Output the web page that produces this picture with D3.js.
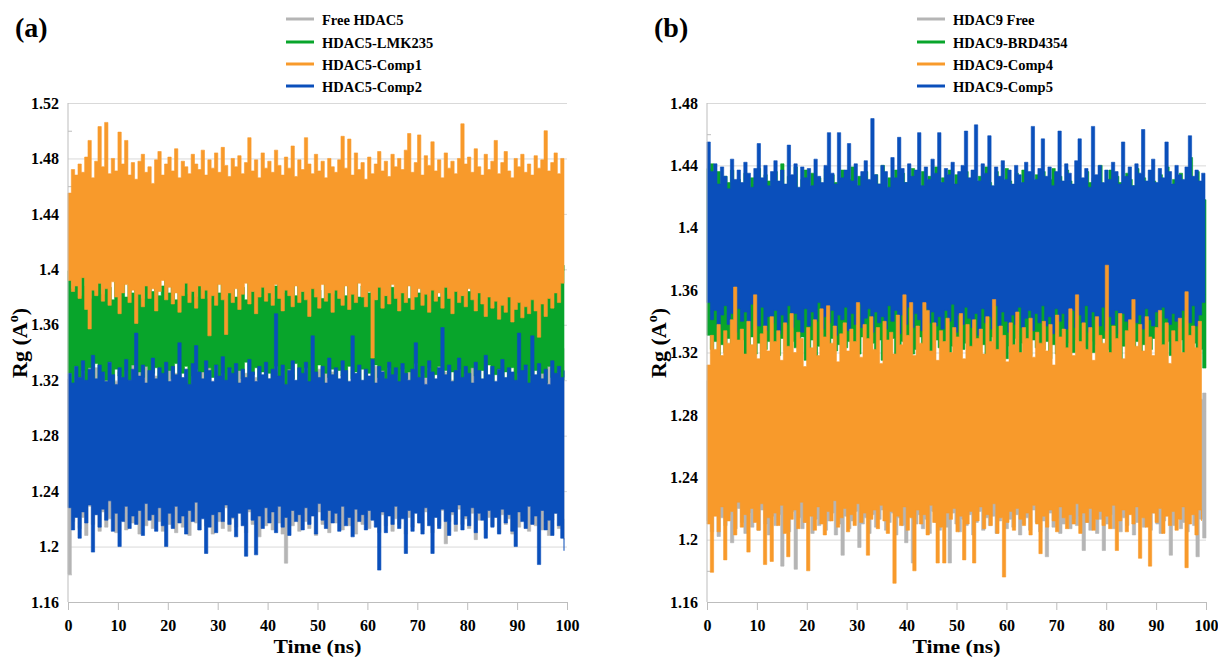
<!DOCTYPE html>
<html><head><meta charset="utf-8">
<script src="https://cdn.jsdelivr.net/npm/d3@7"></script>
<style>body{margin:0;background:#fff}</style>
</head><body>
<svg id="chart" width="1218" height="657"></svg>
<script>
// ---------- tick values ----------
const timeTicks = [0,10,20,30,40,50,60,70,80,90,100];
const yTicksA = [1.16,1.2,1.24,1.28,1.32,1.36,1.4,1.44,1.48,1.52];
const yTicksB = [1.16,1.2,1.24,1.28,1.32,1.36,1.4,1.44,1.48];

// ---------- series names ----------
const namesA = ["Free HDAC5","HDAC5-LMK235","HDAC5-Comp1","HDAC5-Comp2"];
const namesB = ["HDAC9 Free","HDAC9-BRD4354","HDAC9-Comp4","HDAC9-Comp5"];
const endTimeA = [99.4,99.4,99.4,99.4];
const endTimeB = [100,100,99.1,99.8];

// ---------- panel (a): upper / lower envelope of each trajectory (Rg, Å) ----------
const A_free_hi = [
1.321,1.314,1.327,1.333,1.318,1.325,1.341,1.316,1.329,1.322,
1.317,1.331,1.324,1.338,1.319,1.326,1.313,1.330,1.322,1.335,
1.318,1.327,1.321,1.333,1.316,1.340,1.323,1.329,1.315,1.326,
1.332,1.319,1.325,1.337,1.320,1.328,1.314,1.343,1.322,1.317,
1.329,1.321,1.334,1.318,1.326,1.340,1.319,1.331,1.323,1.316,
1.327,1.338,1.320,1.325,1.313,1.330,1.322,1.336,1.318,1.328,
1.321,1.333,1.316,1.326,1.341,1.319,1.329,1.324,1.314,1.332,
1.318,1.327,1.322,1.335,1.317,1.328,1.320,1.339,1.315,1.326,
1.331,1.319,1.324,1.336,1.316,1.327,1.321,1.333,1.318,1.329,
1.323,1.315,1.330,1.320,1.338,1.317,1.326,1.322,1.334,1.319,
1.328,1.321,1.340,1.316,1.325,1.331,1.318,1.327,1.322,1.337,
1.319,1.330,1.315,1.326,1.333,1.320,1.328,1.317,1.339,1.324,
1.321,1.332,1.318,1.327,1.314,1.335,1.323,1.329,1.316,1.326,
1.331,1.319,1.338,1.322,1.328,1.316,1.325,1.342,1.320,1.329,
1.323,1.317,1.334,1.321,1.339,1.326,1.336,1.331,1.343,1.335];
const A_free_lo = [
1.180,1.218,1.226,1.213,1.221,1.208,1.229,1.216,1.223,1.211,
1.225,1.214,1.220,1.228,1.210,1.219,1.224,1.212,1.227,1.217,
1.222,1.209,1.226,1.215,1.220,1.213,1.228,1.218,1.211,1.224,
1.216,1.223,1.210,1.227,1.214,1.221,1.208,1.225,1.217,1.212,
1.226,1.215,1.222,1.209,1.224,1.218,1.213,1.228,1.211,1.220,
1.214,1.227,1.219,1.210,1.225,1.216,1.222,1.207,1.228,1.215,
1.221,1.212,1.226,1.217,1.209,1.188,1.224,1.215,1.220,1.211,
1.227,1.218,1.213,1.223,1.208,1.225,1.216,1.221,1.210,1.226,
1.217,1.222,1.212,1.228,1.215,1.219,1.209,1.224,1.216,1.221,
1.213,1.226,1.218,1.210,1.223,1.215,1.227,1.211,1.220,1.216,
1.224,1.209,1.221,1.214,1.228,1.217,1.212,1.225,1.219,1.210,
1.222,1.215,1.226,1.202,1.218,1.223,1.211,1.227,1.216,1.220,
1.213,1.224,1.205,1.219,1.226,1.212,1.221,1.215,1.228,1.210,
1.223,1.216,1.220,1.209,1.225,1.214,1.222,1.218,1.211,1.227,
1.215,1.221,1.212,1.226,1.208,1.219,1.224,1.213,1.220,1.205];
const A_lmk_hi = [
1.399,1.386,1.392,1.381,1.395,1.388,1.379,1.393,1.384,1.390,
1.382,1.394,1.387,1.378,1.391,1.385,1.396,1.380,1.389,1.383,
1.392,1.386,1.379,1.394,1.405,1.384,1.390,1.381,1.388,1.395,
1.383,1.389,1.378,1.392,1.386,1.397,1.382,1.388,1.380,1.391,
1.385,1.393,1.379,1.387,1.398,1.383,1.390,1.381,1.394,1.386,
1.380,1.392,1.387,1.378,1.395,1.384,1.389,1.382,1.396,1.385,
1.391,1.379,1.388,1.393,1.383,1.390,1.386,1.397,1.381,1.389,
1.384,1.394,1.380,1.388,1.392,1.385,1.379,1.395,1.387,1.382,
1.390,1.386,1.398,1.381,1.389,1.384,1.393,1.380,1.388,1.395,
1.383,1.389,1.378,1.392,1.386,1.381,1.394,1.387,1.382,1.390,
1.385,1.393,1.379,1.388,1.396,1.383,1.390,1.384,1.381,1.392,
1.386,1.380,1.394,1.387,1.382,1.391,1.385,1.398,1.381,1.389,
1.384,1.392,1.379,1.388,1.383,1.395,1.386,1.380,1.391,1.384,
1.389,1.382,1.387,1.393,1.380,1.386,1.390,1.383,1.388,1.381,
1.392,1.385,1.389,1.383,1.394,1.387,1.391,1.396,1.399,1.403];
const A_lmk_lo = [
1.325,1.318,1.330,1.322,1.327,1.315,1.329,1.321,1.332,1.319,
1.326,1.320,1.333,1.317,1.328,1.323,1.311,1.327,1.320,1.331,
1.318,1.326,1.322,1.330,1.316,1.325,1.329,1.319,1.324,1.313,
1.327,1.321,1.332,1.318,1.325,1.330,1.316,1.323,1.328,1.320,
1.326,1.314,1.329,1.322,1.331,1.319,1.325,1.317,1.328,1.323,
1.318,1.327,1.321,1.333,1.316,1.324,1.329,1.320,1.326,1.312,
1.325,1.319,1.330,1.322,1.327,1.315,1.328,1.321,1.332,1.318,
1.324,1.329,1.317,1.326,1.320,1.331,1.314,1.325,1.322,1.328,
1.319,1.327,1.323,1.316,1.330,1.321,1.326,1.313,1.328,1.320,
1.325,1.318,1.331,1.322,1.327,1.315,1.329,1.320,1.324,1.317,
1.328,1.321,1.326,1.319,1.332,1.316,1.325,1.322,1.329,1.318,
1.324,1.330,1.315,1.327,1.320,1.326,1.312,1.328,1.321,1.325,
1.318,1.329,1.323,1.316,1.327,1.320,1.331,1.317,1.324,1.328,
1.321,1.326,1.314,1.329,1.319,1.325,1.322,1.330,1.316,1.323,
1.327,1.320,1.325,1.318,1.330,1.322,1.315,1.326,1.320,1.328];
const A_c1_hi = [
1.455,1.472,1.468,1.476,1.470,1.481,1.493,1.466,1.478,1.503,
1.474,1.506,1.469,1.480,1.471,1.499,1.476,1.493,1.468,1.477,
1.465,1.478,1.483,1.470,1.474,1.462,1.479,1.485,1.468,1.476,
1.481,1.471,1.487,1.466,1.478,1.474,1.469,1.483,1.476,1.472,
1.486,1.468,1.479,1.473,1.484,1.470,1.488,1.475,1.467,1.480,
1.474,1.482,1.469,1.477,1.495,1.471,1.479,1.466,1.484,1.473,
1.478,1.470,1.486,1.475,1.468,1.481,1.473,1.489,1.467,1.479,
1.472,1.495,1.476,1.469,1.483,1.471,1.478,1.466,1.480,1.474,
1.470,1.479,1.496,1.473,1.494,1.468,1.484,1.472,1.477,1.465,
1.481,1.469,1.476,1.485,1.471,1.478,1.467,1.483,1.474,1.480,
1.472,1.486,1.498,1.470,1.477,1.497,1.468,1.482,1.475,1.492,
1.471,1.479,1.466,1.484,1.473,1.478,1.469,1.480,1.505,1.476,
1.481,1.470,1.487,1.474,1.468,1.483,1.472,1.478,1.493,1.469,
1.477,1.485,1.471,1.466,1.480,1.474,1.483,1.470,1.476,1.468,
1.482,1.473,1.479,1.500,1.471,1.477,1.484,1.469,1.480,1.476];
const A_c1_lo = [
1.392,1.384,1.388,1.379,1.394,1.371,1.357,1.385,1.381,1.390,
1.377,1.386,1.374,1.391,1.380,1.368,1.383,1.389,1.376,1.385,
1.361,1.382,1.373,1.388,1.379,1.386,1.370,1.384,1.392,1.378,
1.387,1.375,1.383,1.369,1.381,1.390,1.376,1.384,1.372,1.388,
1.379,1.385,1.352,1.381,1.374,1.389,1.378,1.353,1.383,1.376,
1.386,1.371,1.382,1.390,1.375,1.384,1.368,1.380,1.387,1.377,
1.383,1.374,1.389,1.379,1.370,1.385,1.381,1.373,1.388,1.376,
1.384,1.378,1.366,1.386,1.380,1.372,1.389,1.377,1.383,1.369,
1.385,1.379,1.374,1.388,1.371,1.382,1.376,1.390,1.380,1.373,
1.384,1.336,1.378,1.387,1.372,1.381,1.375,1.389,1.379,1.370,
1.383,1.376,1.388,1.371,1.380,1.386,1.374,1.382,1.369,1.385,
1.377,1.383,1.372,1.387,1.379,1.368,1.384,1.376,1.381,1.373,
1.386,1.378,1.370,1.383,1.375,1.366,1.380,1.372,1.377,1.364,
1.374,1.369,1.380,1.362,1.371,1.376,1.365,1.373,1.368,1.378,
1.370,1.351,1.375,1.366,1.379,1.372,1.383,1.376,1.390,1.398];
const A_c2_hi = [
1.325,1.318,1.330,1.322,1.334,1.320,1.328,1.338,1.321,1.331,
1.326,1.319,1.333,1.324,1.317,1.329,1.322,1.335,1.320,1.328,
1.354,1.323,1.331,1.318,1.327,1.336,1.321,1.329,1.325,1.333,
1.319,1.330,1.324,1.347,1.322,1.328,1.317,1.332,1.345,1.326,
1.321,1.334,1.327,1.319,1.331,1.323,1.337,1.320,1.329,1.325,
1.332,1.318,1.328,1.322,1.335,1.326,1.319,1.330,1.324,1.333,
1.321,1.328,1.368,1.323,1.331,1.317,1.327,1.334,1.320,1.329,
1.325,1.333,1.319,1.352,1.326,1.322,1.330,1.318,1.336,1.324,
1.329,1.321,1.334,1.327,1.319,1.352,1.325,1.331,1.320,1.328,
1.323,1.335,1.318,1.330,1.326,1.321,1.333,1.324,1.329,1.319,
1.332,1.325,1.320,1.328,1.347,1.322,1.330,1.317,1.334,1.326,
1.321,1.329,1.358,1.324,1.331,1.319,1.327,1.336,1.322,1.330,
1.325,1.318,1.333,1.327,1.321,1.338,1.324,1.330,1.319,1.328,
1.335,1.322,1.329,1.326,1.320,1.354,1.327,1.331,1.318,1.352,
1.324,1.332,1.321,1.328,1.317,1.334,1.325,1.330,1.322,1.327];
const A_c2_lo = [
1.228,1.212,1.221,1.206,1.225,1.217,1.230,1.196,1.223,1.214,
1.227,1.219,1.233,1.211,1.224,1.200,1.218,1.229,1.213,1.222,
1.216,1.226,1.208,1.231,1.219,1.223,1.211,1.228,1.215,1.200,
1.224,1.213,1.229,1.217,1.222,1.209,1.226,1.218,1.232,1.212,
1.220,1.195,1.214,1.223,1.210,1.225,1.218,1.230,1.216,1.221,
1.207,1.224,1.215,1.193,1.227,1.219,1.194,1.222,1.213,1.228,
1.217,1.225,1.210,1.229,1.214,1.221,1.208,1.226,1.218,1.223,
1.212,1.228,1.216,1.222,1.209,1.231,1.219,1.213,1.226,1.217,
1.224,1.211,1.229,1.215,1.221,1.207,1.227,1.218,1.223,1.212,
1.226,1.219,1.214,1.183,1.225,1.210,1.222,1.216,1.229,1.213,
1.220,1.195,1.226,1.211,1.224,1.217,1.209,1.228,1.215,1.195,
1.221,1.213,1.227,1.218,1.208,1.225,1.216,1.230,1.212,1.222,
1.215,1.228,1.210,1.224,1.219,1.206,1.226,1.214,1.221,1.209,
1.227,1.217,1.223,1.211,1.200,1.225,1.218,1.213,1.229,1.216,
1.222,1.187,1.226,1.212,1.219,1.208,1.224,1.215,1.206,1.197];

// ---------- panel (b) ----------
const B_free_hi = [
1.302,1.311,1.296,1.308,1.299,1.314,1.304,1.293,1.310,1.301,
1.307,1.297,1.312,1.303,1.295,1.309,1.300,1.315,1.298,1.306,
1.294,1.308,1.302,1.311,1.297,1.305,1.313,1.299,1.304,1.296,
1.310,1.301,1.307,1.293,1.312,1.298,1.305,1.300,1.309,1.295,
1.303,1.314,1.297,1.306,1.301,1.311,1.294,1.308,1.299,1.304,
1.296,1.309,1.302,1.313,1.298,1.305,1.300,1.310,1.293,1.307,
1.301,1.312,1.295,1.304,1.309,1.297,1.306,1.302,1.314,1.299,
1.308,1.294,1.303,1.311,1.298,1.305,1.300,1.310,1.296,1.307,
1.302,1.313,1.297,1.304,1.309,1.295,1.306,1.301,1.311,1.298,
1.305,1.300,1.312,1.294,1.307,1.303,1.299,1.310,1.296,1.308,
1.301,1.314,1.298,1.305,1.293,1.309,1.302,1.311,1.297,1.304,
1.310,1.295,1.306,1.300,1.313,1.298,1.303,1.308,1.294,1.307,
1.299,1.311,1.302,1.296,1.309,1.304,1.312,1.297,1.305,1.300,
1.308,1.294,1.303,1.310,1.298,1.306,1.301,1.313,1.295,1.304,
1.309,1.297,1.305,1.300,1.311,1.296,1.303,1.290,1.294,1.282];
const B_free_lo = [
1.212,1.205,1.218,1.202,1.214,1.209,1.216,1.198,1.207,1.220,
1.211,1.204,1.217,1.208,1.213,1.206,1.219,1.210,1.203,1.215,
1.209,1.216,1.183,1.212,1.205,1.218,1.181,1.214,1.207,1.211,
1.216,1.204,1.213,1.209,1.219,1.206,1.212,1.217,1.203,1.210,
1.190,1.215,1.207,1.212,1.218,1.195,1.210,1.214,1.204,1.216,
1.208,1.213,1.219,1.206,1.211,1.217,1.203,1.214,1.209,1.198,
1.215,1.185,1.210,1.216,1.207,1.213,1.204,1.218,1.211,1.206,
1.214,1.208,1.185,1.217,1.210,1.205,1.213,1.209,1.216,1.203,
1.211,1.218,1.206,1.214,1.209,1.215,1.204,1.212,1.217,1.207,
1.213,1.208,1.216,1.203,1.210,1.214,1.206,1.219,1.211,1.205,
1.212,1.189,1.217,1.208,1.214,1.204,1.210,1.216,1.207,1.213,
1.209,1.215,1.193,1.211,1.206,1.217,1.204,1.213,1.193,1.210,
1.216,1.207,1.212,1.205,1.214,1.209,1.218,1.203,1.211,1.215,
1.208,1.213,1.206,1.217,1.210,1.204,1.212,1.216,1.190,1.209,
1.214,1.207,1.211,1.205,1.216,1.209,1.189,1.213,1.201,1.230];
const B_brd_hi = [
1.438,1.441,1.427,1.436,1.422,1.433,1.429,1.437,1.424,1.431,
1.426,1.435,1.420,1.432,1.428,1.438,1.423,1.434,1.430,1.425,
1.436,1.421,1.441,1.427,1.433,1.429,1.439,1.424,1.431,1.437,
1.422,1.435,1.428,1.432,1.426,1.438,1.423,1.434,1.429,1.421,
1.437,1.425,1.431,1.439,1.427,1.433,1.422,1.436,1.430,1.424,
1.434,1.428,1.440,1.423,1.432,1.426,1.437,1.421,1.435,1.429,
1.424,1.438,1.431,1.427,1.436,1.422,1.433,1.429,1.439,1.425,
1.432,1.426,1.437,1.423,1.434,1.428,1.421,1.436,1.430,1.435,
1.427,1.433,1.424,1.439,1.429,1.422,1.436,1.431,1.425,1.438,
1.430,1.423,1.435,1.428,1.437,1.426,1.432,1.421,1.434,1.429,
1.436,1.424,1.431,1.438,1.427,1.433,1.422,1.437,1.430,1.425,
1.434,1.428,1.421,1.436,1.429,1.432,1.426,1.440,1.423,1.431,
1.437,1.425,1.433,1.429,1.422,1.435,1.431,1.427,1.438,1.424,
1.432,1.426,1.436,1.430,1.423,1.434,1.428,1.439,1.425,1.431,
1.427,1.435,1.422,1.433,1.445,1.429,1.436,1.424,1.418,1.405];
const B_brd_lo = [
1.331,1.322,1.327,1.318,1.325,1.320,1.329,1.316,1.324,1.321,
1.328,1.317,1.323,1.330,1.319,1.326,1.314,1.322,1.327,1.320,
1.325,1.318,1.329,1.321,1.316,1.327,1.323,1.319,1.330,1.315,
1.322,1.328,1.317,1.324,1.320,1.326,1.313,1.329,1.321,1.325,
1.318,1.323,1.327,1.316,1.325,1.319,1.330,1.322,1.317,1.326,
1.321,1.328,1.315,1.324,1.320,1.329,1.318,1.323,1.327,1.316,
1.325,1.319,1.322,1.330,1.317,1.326,1.321,1.314,1.328,1.323,
1.318,1.327,1.320,1.324,1.316,1.329,1.322,1.326,1.315,1.321,
1.328,1.317,1.325,1.319,1.323,1.330,1.318,1.322,1.327,1.316,
1.324,1.320,1.329,1.315,1.326,1.321,1.318,1.328,1.323,1.317,
1.322,1.327,1.316,1.325,1.319,1.329,1.321,1.314,1.326,1.320,
1.328,1.318,1.323,1.317,1.327,1.320,1.325,1.316,1.329,1.322,
1.319,1.326,1.321,1.315,1.324,1.328,1.318,1.323,1.327,1.320,
1.325,1.317,1.322,1.329,1.316,1.324,1.320,1.327,1.318,1.323,
1.321,1.328,1.316,1.325,1.319,1.326,1.314,1.322,1.310,1.312];
const B_c4_hi = [
1.312,1.331,1.322,1.338,1.318,1.334,1.326,1.341,1.362,1.328,
1.335,1.319,1.340,1.325,1.357,1.316,1.332,1.337,1.321,1.343,
1.327,1.334,1.315,1.339,1.324,1.345,1.320,1.333,1.329,1.311,
1.336,1.323,1.341,1.318,1.348,1.330,1.350,1.326,1.337,1.314,
1.332,1.339,1.321,1.335,1.327,1.352,1.317,1.338,1.329,1.343,
1.322,1.336,1.313,1.340,1.328,1.333,1.319,1.344,1.325,1.357,
1.331,1.352,1.318,1.337,1.326,1.352,1.347,1.321,1.339,1.315,
1.334,1.327,1.342,1.320,1.336,1.330,1.345,1.316,1.338,1.324,
1.341,1.329,1.335,1.319,1.343,1.327,1.354,1.322,1.337,1.331,
1.314,1.339,1.325,1.346,1.320,1.336,1.329,1.342,1.317,1.333,
1.326,1.340,1.321,1.338,1.312,1.344,1.330,1.335,1.323,1.348,
1.318,1.357,1.327,1.339,1.322,1.336,1.315,1.343,1.331,1.326,
1.376,1.320,1.337,1.329,1.345,1.316,1.334,1.341,1.354,1.324,
1.338,1.321,1.343,1.330,1.318,1.336,1.347,1.325,1.339,1.313,
1.334,1.327,1.342,1.320,1.359,1.331,1.337,1.323,1.340,1.328];
const B_c4_lo = [
1.210,1.179,1.215,1.205,1.221,1.187,1.212,1.218,1.203,1.224,
1.208,1.216,1.192,1.220,1.211,1.206,1.223,1.184,1.214,1.186,
1.217,1.209,1.222,1.204,1.189,1.213,1.219,1.207,1.224,1.211,
1.180,1.215,1.206,1.221,1.210,1.203,1.218,1.212,1.225,1.208,
1.214,1.220,1.205,1.216,1.209,1.223,1.211,1.217,1.190,1.213,
1.219,1.207,1.222,1.212,1.204,1.218,1.172,1.215,1.209,1.221,
1.206,1.214,1.180,1.219,1.210,1.216,1.203,1.222,1.211,1.185,
1.208,1.185,1.217,1.213,1.220,1.205,1.215,1.187,1.210,1.218,
1.185,1.212,1.221,1.207,1.216,1.209,1.223,1.204,1.214,1.176,
1.211,1.218,1.206,1.220,1.213,1.209,1.217,1.203,1.222,1.210,
1.191,1.215,1.208,1.219,1.212,1.205,1.221,1.214,1.207,1.216,
1.210,1.223,1.204,1.217,1.211,1.220,1.206,1.213,1.218,1.209,
1.215,1.207,1.222,1.193,1.212,1.219,1.205,1.216,1.210,1.221,
1.188,1.214,1.208,1.183,1.217,1.211,1.220,1.204,1.215,1.209,
1.218,1.206,1.213,1.221,1.182,1.210,1.216,1.203,1.219,1.212];
const B_c5_hi = [
1.455,1.436,1.441,1.428,1.439,1.433,1.425,1.444,1.431,1.437,
1.429,1.442,1.435,1.426,1.438,1.454,1.432,1.440,1.427,1.436,
1.443,1.430,1.437,1.428,1.453,1.434,1.441,1.426,1.439,1.432,
1.438,1.427,1.444,1.433,1.429,1.440,1.461,1.435,1.428,1.461,
1.432,1.437,1.454,1.430,1.441,1.427,1.436,1.443,1.431,1.470,
1.434,1.428,1.440,1.436,1.426,1.445,1.432,1.458,1.438,1.429,
1.441,1.433,1.437,1.461,1.427,1.439,1.431,1.444,1.435,1.461,
1.429,1.438,1.434,1.442,1.428,1.436,1.440,1.462,1.432,1.437,
1.466,1.430,1.441,1.435,1.459,1.427,1.439,1.433,1.443,1.431,
1.437,1.428,1.440,1.434,1.429,1.442,1.436,1.465,1.431,1.438,
1.457,1.433,1.439,1.427,1.436,1.462,1.430,1.441,1.435,1.428,
1.443,1.457,1.432,1.438,1.426,1.465,1.434,1.440,1.429,1.437,
1.431,1.442,1.436,1.428,1.455,1.433,1.439,1.427,1.441,1.435,
1.463,1.430,1.437,1.444,1.429,1.438,1.432,1.455,1.436,1.428,
1.440,1.434,1.431,1.439,1.459,1.433,1.437,1.430,1.435,1.428];
const B_c5_lo = [
1.352,1.341,1.347,1.336,1.344,1.350,1.338,1.345,1.333,1.348,
1.340,1.346,1.335,1.351,1.342,1.337,1.349,1.334,1.343,1.339,
1.347,1.332,1.344,1.338,1.350,1.336,1.345,1.341,1.333,1.348,
1.337,1.346,1.340,1.352,1.335,1.343,1.339,1.347,1.331,1.344,
1.341,1.349,1.334,1.345,1.338,1.351,1.336,1.342,1.348,1.333,
1.346,1.339,1.343,1.335,1.350,1.340,1.347,1.332,1.344,1.338,
1.349,1.336,1.345,1.341,1.334,1.348,1.339,1.346,1.337,1.343,
1.335,1.347,1.340,1.351,1.333,1.344,1.338,1.349,1.342,1.336,
1.345,1.331,1.348,1.339,1.343,1.335,1.350,1.337,1.346,1.340,
1.333,1.344,1.338,1.349,1.336,1.342,1.347,1.334,1.345,1.339,
1.350,1.337,1.343,1.332,1.348,1.340,1.345,1.335,1.341,1.347,
1.336,1.344,1.339,1.350,1.333,1.346,1.341,1.337,1.349,1.334,
1.343,1.338,1.347,1.332,1.345,1.340,1.336,1.351,1.339,1.344,
1.335,1.348,1.341,1.337,1.346,1.333,1.349,1.342,1.338,1.345,
1.340,1.336,1.347,1.343,1.339,1.350,1.337,1.344,1.352,1.357];

const colors = ["#b5b5b5","#08a52b","#f89a2b","#0a4fbb"];

const panels = [
  { label:"(a)", left:68, yTicks:yTicksA, names:namesA, ends:endTimeA,
    hi:[A_free_hi,A_lmk_hi,A_c1_hi,A_c2_hi], lo:[A_free_lo,A_lmk_lo,A_c1_lo,A_c2_lo],
    order:[0,1,2,3], legendX:286 },
  { label:"(b)", left:707, yTicks:yTicksB, names:namesB, ends:endTimeB,
    hi:[B_free_hi,B_brd_hi,B_c4_hi,B_c5_hi], lo:[B_free_lo,B_brd_lo,B_c4_lo,B_c5_lo],
    order:[0,1,3,2], legendX:917 }
];

const svg = d3.select("#chart");
const FONT = "'Liberation Serif','Times New Roman',serif";
const W = 499, TOP = 103, BOT = 602;

panels.forEach(p => {
  const g = svg.append("g");
  const x = d3.scaleLinear().domain([0,100]).range([p.left, p.left+W]);
  const yMax = p.yTicks[p.yTicks.length-1];
  const y = d3.scaleLinear().domain([1.16, yMax]).range([BOT, TOP]);

  // gridlines
  g.append("g").attr("transform",`translate(${p.left},0)`)
    .call(d3.axisLeft(y).tickValues(p.yTicks).tickSize(-W).tickFormat(""))
    .call(s => s.select(".domain").remove())
    .call(s => s.selectAll("line").attr("stroke","#d9d9d9").attr("stroke-width",1));

  // minor ticks on left axis (between major ticks)
  const mids = d3.pairs(p.yTicks).map(([a,b]) => (a+b)/2);
  g.append("g").attr("transform",`translate(${p.left},0)`)
    .call(d3.axisLeft(y).tickValues(mids).tickSize(-4).tickFormat(""))
    .call(s => s.select(".domain").remove())
    .call(s => s.selectAll("line").attr("stroke","#bdbdbd"));

  // data bands
  p.order.forEach(k => {
    const hi = p.hi[k], lo = p.lo[k];
    const n = Math.min(hi.length, lo.length);
    const pts = d3.range(n).map(i => ({t: i*p.ends[k]/(n-1), hi: hi[i], lo: lo[i]}));
    const area = d3.area().curve(d3.curveStepAfter)
      .x(d => x(d.t)).y0(d => y(d.lo)).y1(d => y(d.hi));
    g.append("path").datum(pts).attr("d", area).attr("fill", colors[k])
      .attr("stroke", colors[k]).attr("stroke-width", 0.6);
  });

  // left axis line
  g.append("line").attr("x1",p.left).attr("x2",p.left).attr("y1",TOP).attr("y2",BOT)
    .attr("stroke","#bdbdbd");

  // y tick labels
  g.append("g").attr("transform",`translate(${p.left},0)`)
    .call(d3.axisLeft(y).tickValues(p.yTicks).tickSize(0).tickPadding(9).tickFormat(d => String(d)))
    .call(s => s.select(".domain").remove())
    .call(s => s.selectAll("text").attr("font-family",FONT).attr("font-weight","bold")
      .attr("font-size",16).attr("fill","#000"));

  // x axis
  g.append("g").attr("transform",`translate(0,${BOT})`)
    .call(d3.axisBottom(x).tickValues(timeTicks).tickSize(8).tickPadding(10).tickFormat(d => String(d)))
    .call(s => s.select(".domain").attr("stroke","#bdbdbd"))
    .call(s => s.selectAll("line").attr("stroke","#bdbdbd"))
    .call(s => s.selectAll("text").attr("font-family",FONT).attr("font-weight","bold")
      .attr("font-size",16).attr("fill","#000"));

  // axis titles
  g.append("text").attr("x", p.left+W/2).attr("y", 652.5).attr("text-anchor","middle")
    .attr("font-family",FONT).attr("font-weight","bold").attr("font-size",19.5)
    .attr("textLength",88).attr("lengthAdjust","spacingAndGlyphs").text("Time (ns)");
  const yl = g.append("text").attr("transform",`translate(${p.left-41},343) rotate(-90)`)
    .attr("text-anchor","middle").attr("font-family",FONT).attr("font-weight","bold").attr("font-size",22);
  yl.append("tspan").text("Rg (A");
  yl.append("tspan").attr("font-size",14).attr("dy",-9).text("o");
  yl.append("tspan").attr("dy",9).text(")");

  // panel label
  g.append("text").attr("x", p.left-53).attr("y", 37).attr("font-family",FONT)
    .attr("font-weight","bold").attr("font-size",28).text(p.label);

  // legend
  const rows = [19, 42, 64, 86];
  p.names.forEach((nm,k) => {
    g.append("line").attr("x1",p.legendX).attr("x2",p.legendX+28)
      .attr("y1",rows[k]).attr("y2",rows[k]).attr("stroke",colors[k]).attr("stroke-width",3);
    g.append("text").attr("x",p.legendX+36).attr("y",rows[k]+5.5)
      .attr("font-family",FONT).attr("font-weight","bold").attr("font-size",14.5).text(nm);
  });
});
</script>
</body></html>
